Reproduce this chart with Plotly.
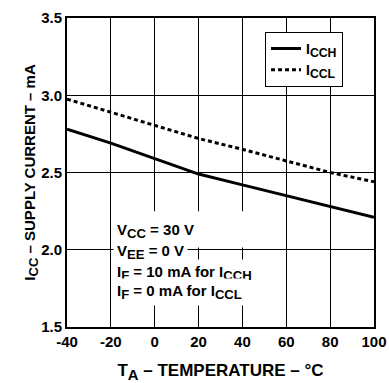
import plotly.graph_objects as go

temps = [-40, -20, 0, 20, 40, 60, 80, 100]
icch = [2.78, 2.69, 2.59, 2.49, 2.42, 2.35, 2.28, 2.21]
iccl = [2.975, 2.89, 2.81, 2.72, 2.65, 2.575, 2.50, 2.44]
x_ticks = [-40, -20, 0, 20, 40, 60, 80, 100]
x_labels = ["-40", "-20", "0", "20", "40", "60", "80", "100"]
y_ticks = [1.5, 2.0, 2.5, 3.0, 3.5]
y_labels = ["1.5", "2.0", "2.5", "3.0", "3.5"]


def sub(t):
    return '<sub><span style="font-size:125%">' + t + '</span></sub>'


def b(t):
    return "<b>" + t + "</b>"


note_lines = ["V" + sub("CC") + " = 30 V", "V" + sub("EE") + " = 0 V",
              "I" + sub("F") + " = 10 mA for I" + sub("CCH"),
              "I" + sub("F") + " = 0 mA for I" + sub("CCL")]
note_y = [2.121, 1.985, 1.850, 1.727]

FONT = "Liberation Sans"

fig = go.Figure()
fig.add_trace(go.Scatter(x=temps, y=icch, mode="lines", name=b("I" + sub("CCH")),
                         line=dict(color="black", width=3)))
fig.add_trace(go.Scatter(x=temps, y=iccl, mode="lines", name=b("I" + sub("CCL")),
                         line=dict(color="black", width=3, dash="4px,3px")))

fig.add_shape(type="rect", xref="x", yref="y", x0=-19, x1=45, y0=2.015, y1=2.25,
              fillcolor="white", line=dict(width=0), layer="above")

for t, yv in zip(note_lines, note_y):
    fig.add_annotation(x=-19, y=yv, xref="x", yref="y", text=b(t), showarrow=False,
                       xanchor="left", yanchor="middle", bgcolor="white",
                       borderpad=3,
                       font=dict(family=FONT, size=15, color="black", weight=700))

fig.update_layout(
    width=389, height=383,
    margin=dict(l=67, r=15, t=18, b=56),
    paper_bgcolor="white", plot_bgcolor="white",
    font=dict(family=FONT, size=14, color="black", weight=700),
    showlegend=True,
    legend=dict(x=0.645, y=0.955, xanchor="left", yanchor="top",
                bgcolor="white", bordercolor="black", borderwidth=1,
                font=dict(family=FONT, size=14, color="black", weight=700),
                tracegroupgap=0, itemwidth=30),
)
fig.update_xaxes(range=[-40, 100], tickvals=x_ticks, ticktext=[b(t) for t in x_labels],
                 ticks="", showgrid=True, automargin=False,
                 gridcolor="black", gridwidth=1, showline=True, linecolor="black",
                 linewidth=2, mirror=True, zeroline=False,
                 tickfont=dict(family=FONT, size=15, weight=700),
                 title=dict(text=b("T" + sub("A") + " – TEMPERATURE – °C"), standoff=16,
                            font=dict(family=FONT, size=17, weight=700)))
fig.update_yaxes(range=[1.5, 3.5], tickvals=y_ticks, ticktext=[b(t) for t in y_labels],
                 ticks="", automargin=False,
                 showgrid=True, gridcolor="black", gridwidth=1, showline=True,
                 linecolor="black", linewidth=2, mirror=True, zeroline=False,
                 tickfont=dict(family=FONT, size=15, weight=700),
                 title=dict(text=b("I" + sub("CC") + " – SUPPLY CURRENT – mA"), standoff=2,
                            font=dict(family=FONT, size=15, weight=700)))

fig.write_html("out.html")
